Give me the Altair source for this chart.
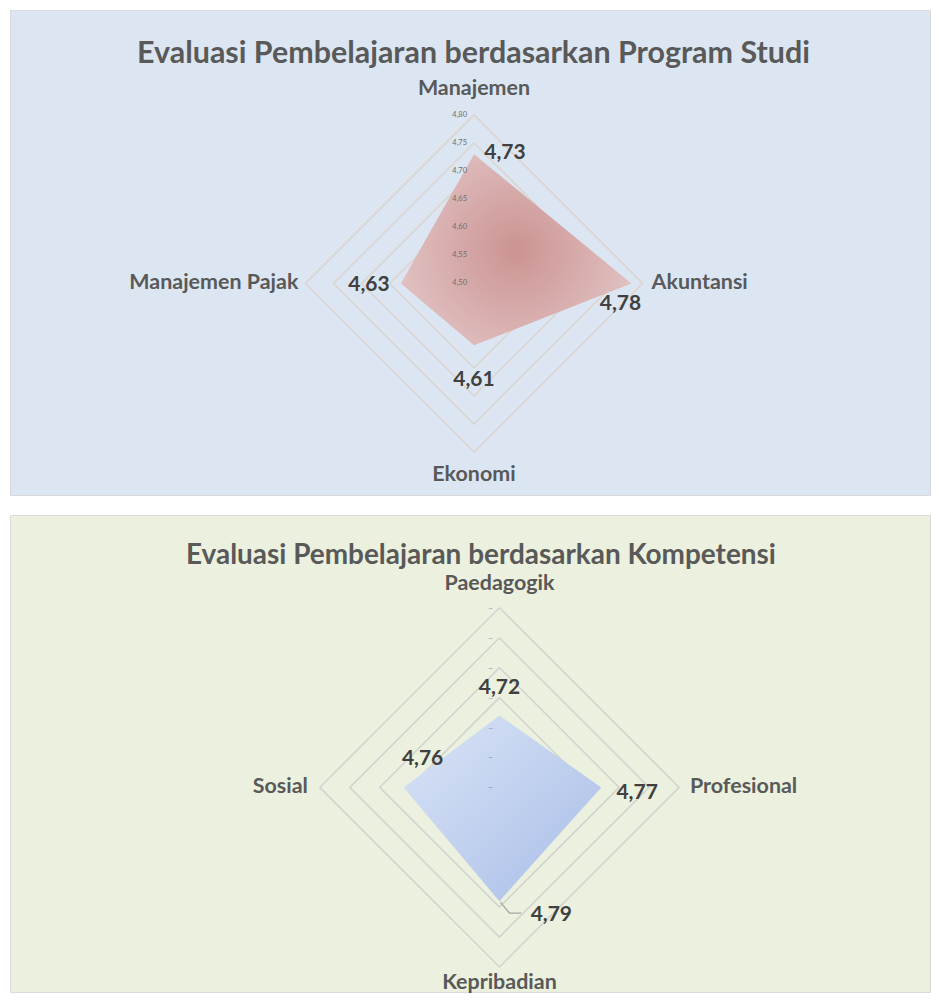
import math
import altair as alt
import pandas as pd

# ---------------- data ----------------
prodi_title = "Evaluasi Pembelajaran berdasarkan Program Studi"
prodi_categories = ["Manajemen", "Akuntansi", "Ekonomi", "Manajemen Pajak"]
prodi_values = [4.73, 4.78, 4.61, 4.63]
prodi_ticks = [4.50, 4.55, 4.60, 4.65, 4.70, 4.75, 4.80]

komp_title = "Evaluasi Pembelajaran berdasarkan Kompetensi"
komp_categories = ["Paedagogik", "Profesional", "Kepribadian", "Sosial"]
komp_values = [4.72, 4.77, 4.79, 4.76]
komp_ticks = [4.60, 4.65, 4.70, 4.75, 4.80, 4.85, 4.90]

# ---------------- layout / style ----------------
FONT = "Lato"
W = 922

prodi_cfg = dict(
    H=486, cx=465, cy=274, R=169,
    bg="#dce6f2", grid="#dcd5cf",
    title_xy=(464.5, 44), title_size=30.5,
    tick_size=7.5,
    cat_off=[(0, -26, "center"), (9, 0, "left"), (0, 23, "center"), (-7, 0, "right")],
    lab_off=[(31, -1), (-11, 21), (0, 35), (-32, 2)],
    fill=alt.Gradient(
        gradient="radial",
        stops=[alt.GradientStop(color="#cc9393", offset=0),
               alt.GradientStop(color="#ead5d5", offset=1)],
        x1=0.5, y1=0.5, r1=0, x2=0.5, y2=0.5, r2=0.75,
    ),
    leader=None,
)

komp_cfg = dict(
    H=478, cx=490.5, cy=273, R=180,
    bg="#ebf1de", grid="#d2d4cf",
    title_xy=(472, 41), title_size=28,
    tick_size=2.5,
    cat_off=[(0, -24, "center"), (11, 0, "left"), (0, 16, "center"), (-12, 0, "right")],
    lab_off=[(0, -28), (36, 6), (52, 14), (19, -28)],
    fill=alt.Gradient(
        gradient="linear",
        stops=[alt.GradientStop(color="#dbe4f6", offset=0),
               alt.GradientStop(color="#a7bde7", offset=1)],
        x1=0, y1=0, x2=1, y2=1,
    ),
    leader=(2, [(1, 1), (10, 12), (22, 12)]),
)


def fmt(v):
    return f"{v:.2f}".replace(".", ",")


def panel(title, cats, vals, ticks, cfg):
    H, cx, cy, R = cfg["H"], cfg["cx"], cfg["cy"], cfg["R"]
    vmin, vmax = ticks[0], ticks[-1]
    k = R / (vmax - vmin)
    n = len(cats)
    dirs = [(round(math.sin(2 * math.pi * i / n), 9), round(-math.cos(2 * math.pi * i / n), 9))
            for i in range(n)]

    X = alt.X("x:Q", scale=alt.Scale(domain=[0, W], nice=False, zero=False), axis=None)
    Y = alt.Y("y:Q", scale=alt.Scale(domain=[0, H], nice=False, zero=False, reverse=True), axis=None)

    # grid diamonds
    grid_rows = []
    for t in ticks[1:]:
        r = (t - vmin) * k
        for j in range(n + 1):
            dx, dy = dirs[j % n]
            grid_rows.append({"x": cx + r * dx, "y": cy + r * dy, "level": t, "idx": j})
    grid = alt.Chart(pd.DataFrame(grid_rows)).mark_line(
        stroke=cfg["grid"], strokeWidth=1.6
    ).encode(x=X, y=Y, detail="level:N", order="idx:Q")

    # filled polygon (axis-aligned 4-spoke radar -> area between upper and lower edges)
    r = [(v - vmin) * k for v in vals]
    area_df = pd.DataFrame([
        {"x": cx - r[3], "y": cy, "y2": cy},
        {"x": cx, "y": cy - r[0], "y2": cy + r[2]},
        {"x": cx + r[1], "y": cy, "y2": cy},
    ])
    area = alt.Chart(area_df).mark_area(fill=cfg["fill"], strokeWidth=0).encode(
        x=X, y=Y, y2="y2:Q"
    )

    # radial tick labels
    tick_df = pd.DataFrame([{"x": cx, "y": cy - (t - vmin) * k, "text": fmt(t)} for t in ticks])
    tick_text = alt.Chart(tick_df).mark_text(
        align="right", baseline="middle", dx=-7, font=FONT, fontSize=cfg["tick_size"], color="#6e6e6e"
    ).encode(x=X, y=Y, text="text:N")

    # data labels
    lab_rows = []
    for i, v in enumerate(vals):
        dx, dy = dirs[i]
        ox, oy = cfg["lab_off"][i]
        lab_rows.append({"x": cx + r[i] * dx + ox, "y": cy + r[i] * dy + oy, "text": fmt(v)})
    labels = alt.Chart(pd.DataFrame(lab_rows)).mark_text(
        align="center", baseline="middle", font=FONT, fontSize=21, fontWeight="bold", color="#404040"
    ).encode(x=X, y=Y, text="text:N")

    # category labels
    cat_rows = []
    for i, c in enumerate(cats):
        dx, dy = dirs[i]
        ox, oy, al = cfg["cat_off"][i]
        cat_rows.append({"x": cx + R * dx + ox, "y": cy + R * dy + oy, "text": c, "align": al})
    cat_df = pd.DataFrame(cat_rows)
    cat_layers = []
    for al in ["center", "left", "right"]:
        cat_layers.append(
            alt.Chart(cat_df).transform_filter(alt.datum.align == al).mark_text(
                align=al, baseline="middle", font=FONT, fontSize=21.5, fontWeight="bold", color="#595959"
            ).encode(x=X, y=Y, text="text:N")
        )

    # title
    title_df = pd.DataFrame([{"x": cfg["title_xy"][0], "y": cfg["title_xy"][1], "text": title}])
    title_text = alt.Chart(title_df).mark_text(
        align="center", baseline="middle", font=FONT, fontSize=cfg["title_size"], fontWeight="bold",
        color="#595959"
    ).encode(x=X, y=Y, text="text:N")

    layers = [grid, area, tick_text]

    if cfg["leader"] is not None:
        li, offs = cfg["leader"]
        dx, dy = dirs[li]
        bx, by = cx + r[li] * dx, cy + r[li] * dy
        lead_df = pd.DataFrame([{"x": bx + ox, "y": by + oy, "idx": j} for j, (ox, oy) in enumerate(offs)])
        layers.append(
            alt.Chart(lead_df).mark_line(stroke="#a6a6a6", strokeWidth=1.3).encode(x=X, y=Y, order="idx:Q")
        )

    layers += [labels] + cat_layers + [title_text]
    return alt.layer(*layers).properties(
        width=W, height=H,
        view=alt.ViewBackground(fill=cfg["bg"], stroke="#d9d9d9", strokeWidth=1),
    )


top = panel(prodi_title, prodi_categories, prodi_values, prodi_ticks, prodi_cfg)
bottom = panel(komp_title, komp_categories, komp_values, komp_ticks, komp_cfg)

chart = alt.vconcat(top, bottom, spacing=18).properties(
    padding={"left": 1, "top": 0, "right": 0, "bottom": 0},
    background="white",
)

chart.save("out.html", embed_options={"renderer": "svg", "actions": False})
